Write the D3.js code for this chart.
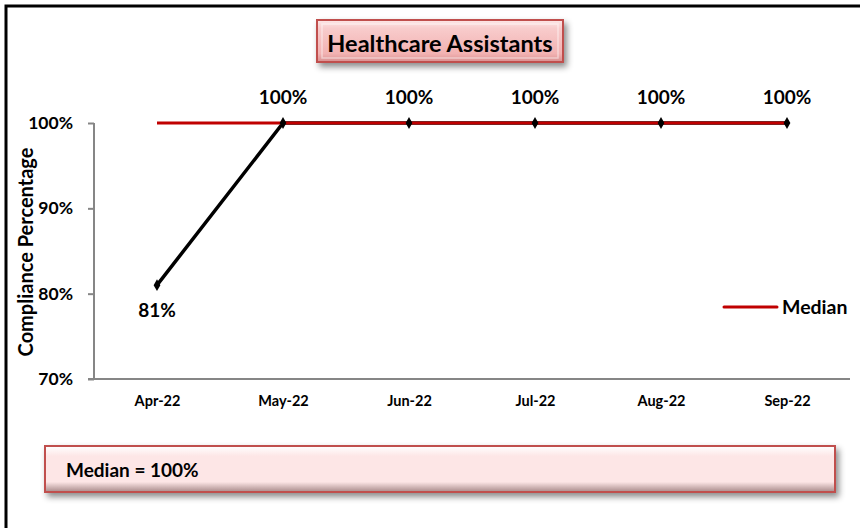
<!DOCTYPE html>
<html><head><meta charset="utf-8">
<script src="https://cdn.jsdelivr.net/npm/d3@7"></script>
<style>
html,body{margin:0;padding:0;background:#fff;}
svg{display:block;font-family:Lato,"Open Sans",sans-serif;font-weight:bold;}
</style></head>
<body>
<svg id="chart" width="860" height="528"></svg>
<script>
const months = ["Apr-22","May-22","Jun-22","Jul-22","Aug-22","Sep-22"];
const compliance = [0.81,1,1,1,1,1];
const median = [1,1,1,1,1,1];
const yTicks = [0.7,0.8,0.9,1.0];
const titleText = "Healthcare Assistants";
const yTitle = "Compliance Percentage";
const legendLabel = "Median";
const medianSummary = "Median = 100%";

const svg = d3.select("#chart");
const defs = svg.append("defs");

const g1 = defs.append("linearGradient").attr("id","titleGrad").attr("x1",0).attr("y1",0).attr("x2",0).attr("y2",1);
g1.append("stop").attr("offset","0%").attr("stop-color","#fde8e8");
g1.append("stop").attr("offset","20%").attr("stop-color","#f8cccc");
g1.append("stop").attr("offset","80%").attr("stop-color","#f2b2b2");
g1.append("stop").attr("offset","100%").attr("stop-color","#d88f8f");
const g2 = defs.append("linearGradient").attr("id","boxGrad").attr("x1",0).attr("y1",0).attr("x2",0).attr("y2",1);
g2.append("stop").attr("offset","0%").attr("stop-color","#ffffff");
g2.append("stop").attr("offset","22%").attr("stop-color","#fde6e6");
g2.append("stop").attr("offset","78%").attr("stop-color","#fde6e6");
g2.append("stop").attr("offset","100%").attr("stop-color","#a88a8a");
const sh = defs.append("filter").attr("id","shadow").attr("x","-10%").attr("y","-30%").attr("width","130%").attr("height","190%");
sh.append("feDropShadow").attr("dx",3).attr("dy",4).attr("stdDeviation",3).attr("flood-color","#000").attr("flood-opacity",0.45);

// outer frame
svg.append("path").attr("d","M6,528 V6 H860").attr("fill","none").attr("stroke","#000").attr("stroke-width",3);

const x = d3.scalePoint().domain(months).range([94,850]).padding(0.5);
const y = d3.scaleLinear().domain([0.7,1.0]).range([379,123]);

// axes
const yAxis = svg.append("g").attr("transform","translate(94,0)")
  .call(d3.axisLeft(y).tickValues(yTicks).tickFormat(d3.format(".0%")).tickSize(6).tickPadding(15));
yAxis.select(".domain").attr("stroke","#868686").attr("stroke-width",2).attr("d","M0,123V379");
yAxis.selectAll(".tick line").attr("stroke","#868686").attr("stroke-width",2);
yAxis.selectAll(".tick text").attr("fill","#000").style("font-size","17.5px").style("font-weight","bold").attr("font-family","Lato");

const xAxis = svg.append("g").attr("transform","translate(0,379)")
  .call(d3.axisBottom(x).tickSize(0).tickPadding(17));
xAxis.select(".domain").attr("stroke","#868686").attr("stroke-width",2).attr("d","M88,0H850");
xAxis.selectAll(".tick text").attr("fill","#000").style("font-size","14.5px").style("font-weight","bold").attr("font-family","Lato");

// y title
svg.append("text").attr("transform","translate(33,252) rotate(-90)").attr("text-anchor","middle")
  .style("font-size","20px").text(yTitle);

// compliance line
svg.append("path").datum(compliance)
  .attr("d", d3.line().x((d,i)=>x(months[i])).y(d=>y(d)))
  .attr("fill","none").attr("stroke","#000").attr("stroke-width",3.5);

// median line (on top)
svg.append("path").datum(median)
  .attr("d", d3.line().x((d,i)=>x(months[i])).y(d=>y(d)))
  .attr("fill","none").attr("stroke","#c00000").attr("stroke-width",3);

svg.selectAll(".mk").data(compliance).enter().append("path")
  .attr("transform",(d,i)=>`translate(${x(months[i])},${y(d)})`)
  .attr("d", d3.symbol(d3.symbolDiamond, 40)).attr("fill","#000");

svg.selectAll(".lbl").data(compliance).enter().append("text")
  .attr("x",(d,i)=>x(months[i]))
  .attr("y",(d,i)=> i===0 ? y(d)+32 : y(d)-19)
  .attr("text-anchor","middle").style("font-size","19px")
  .text(d=>d3.format(".0%")(d));

// legend
svg.append("line").attr("x1",724).attr("x2",777).attr("y1",307).attr("y2",307)
  .attr("stroke","#c00000").attr("stroke-width",3).attr("stroke-linecap","round");
svg.append("text").attr("x",782).attr("y",314).style("font-size","19.5px").text(legendLabel);

// title box
const tb = svg.append("g");
tb.append("rect").attr("x",317).attr("y",20).attr("width",246).attr("height",42)
  .attr("fill","url(#titleGrad)").attr("stroke","#c0504d").attr("stroke-width",2).attr("filter","url(#shadow)");
tb.append("rect").attr("x",322).attr("y",24).attr("width",236).attr("height",34)
  .attr("fill","none").attr("stroke","#fff").attr("stroke-opacity",0.45).attr("stroke-width",1.5);
tb.append("text").attr("x",440).attr("y",52).attr("text-anchor","middle").style("font-size","23.5px").text(titleText);

// bottom median box
const bb = svg.append("g");
bb.append("rect").attr("x",45).attr("y",446).attr("width",790).attr("height",46)
  .attr("fill","url(#boxGrad)").attr("stroke","#c0504d").attr("stroke-width",2).attr("filter","url(#shadow)");
bb.append("text").attr("x",66).attr("y",477).style("font-size","19px").text(medianSummary);
</script>
</body></html>
